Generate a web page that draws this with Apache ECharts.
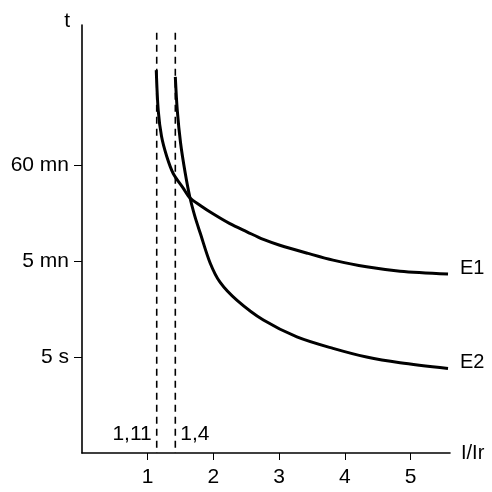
<!DOCTYPE html>
<html>
<head>
<meta charset="utf-8">
<script src="https://cdn.jsdelivr.net/npm/echarts@6/dist/echarts.min.js"></script>
<style>
html,body{margin:0;padding:0;background:#fff;}
#chart{width:492px;height:492px;}
</style>
</head>
<body>
<div id="chart"></div>
<script>
'use strict';
// x = I/Ir, y = position on the schematic time scale (1 = 5 s, 2 = 5 mn, 3 = 60 mn)
var xTicks = [1, 2, 3, 4, 5];
var yTicks = [1, 2, 3];
var yTickLabels = ['5 s', '5 mn', '60 mn'];

var e1X = [1.13, 1.16, 1.21, 1.29, 1.39, 1.54, 1.64, 1.80, 2.00, 2.25, 2.51, 2.76, 3.01, 3.44, 3.82, 4.33, 4.84, 5.57];
var e1Y = [3.99, 3.57, 3.30, 3.09, 2.91, 2.76, 2.66, 2.58, 2.49, 2.39, 2.305, 2.225, 2.165, 2.08, 2.01, 1.94, 1.895, 1.865];

var e2X = [1.42, 1.45, 1.50, 1.57, 1.64, 1.72, 1.80, 1.95, 2.10, 2.36, 2.76, 3.27, 3.82, 4.33, 4.84, 5.57];
var e2Y = [3.92, 3.57, 3.23, 2.92, 2.67, 2.46, 2.29, 1.98, 1.78, 1.59, 1.385, 1.21, 1.09, 1.00, 0.94, 0.88];

var limits = [1.137, 1.42];
var limitLabels = ['1,11', '1,4'];
var limitTop = 4.38;

var font = 'Liberation Sans, Arial, Helvetica, sans-serif';

function pairs(xs, ys){
	var out = [];
	for (var i = 0; i < xs.length; i++) out.push([xs[i], ys[i]]);
	return out;
}

// dashed vertical limit, drawn from the top so the dash pattern starts there
function limitSeries(i){
	return {
		type:'line',
		name:limitLabels[i],
		symbol:'circle',
		symbolSize:0,
		showSymbol:true,
		silent:true,
		lineStyle:{color:'#000', width:1.6, type:[7,5]},
		itemStyle:{color:'#000'},
		data:[
			[limits[i], limitTop],
			{value:[limits[i], 0], label:{
				show:true,
				formatter:limitLabels[i],
				position:i === 0 ? 'left' : 'right',
				distance:5,
				offset:[0,-19],
				color:'#000',
				fontFamily:font,
				fontSize:21
			}}
		]
	};
}

function curve(name, xs, ys){
	return {
		type:'line',
		name:name,
		smooth:0.3,
		symbol:'none',
		silent:true,
		lineStyle:{color:'#000', width:3},
		endLabel:{
			show:true,
			formatter:name,
			distance:12,
			offset:[0,-6],
			color:'#000',
			fontFamily:font,
			fontSize:20
		},
		data:pairs(xs, ys)
	};
}

var chart = echarts.init(document.getElementById('chart'));
chart.setOption({
	animation:false,
	backgroundColor:'#fff',
	grid:{left:82, right:42, top:25, bottom:39},
	xAxis:{
		type:'value',
		min:0,
		max:5.6,
		interval:1,
		name:'I/Ir',
		nameLocation:'end',
		nameGap:11,
		nameTextStyle:{color:'#000', fontFamily:font, fontSize:20, padding:[0,0,5,0]},
		axisLine:{lineStyle:{color:'#000', width:1.6}},
		axisTick:{show:true, inside:false, length:7, customValues:xTicks, lineStyle:{color:'#000', width:1}},
		axisLabel:{customValues:xTicks, margin:14, color:'#000', fontFamily:font, fontSize:21},
		splitLine:{show:false}
	},
	yAxis:{
		type:'value',
		min:0,
		max:4.46,
		interval:1,
		name:'t',
		nameLocation:'end',
		nameGap:-7,
		nameTextStyle:{color:'#000', fontFamily:font, fontSize:21, align:'right', padding:[0,12,0,0]},
		axisLine:{lineStyle:{color:'#000', width:1.6}},
		axisTick:{show:true, inside:false, length:8, customValues:yTicks, lineStyle:{color:'#000', width:1}},
		axisLabel:{
			customValues:yTicks,
			margin:13,
			color:'#000',
			fontFamily:font,
			fontSize:21,
			padding:[0,0,8,0],
			formatter:function(v){
				var i = yTicks.indexOf(v);
				return i >= 0 ? yTickLabels[i] : '';
			}
		},
		splitLine:{show:false}
	},
	series:[
		limitSeries(0),
		limitSeries(1),
		curve('E1', e1X, e1Y),
		curve('E2', e2X, e2Y)
	]
});
</script>
</body>
</html>
